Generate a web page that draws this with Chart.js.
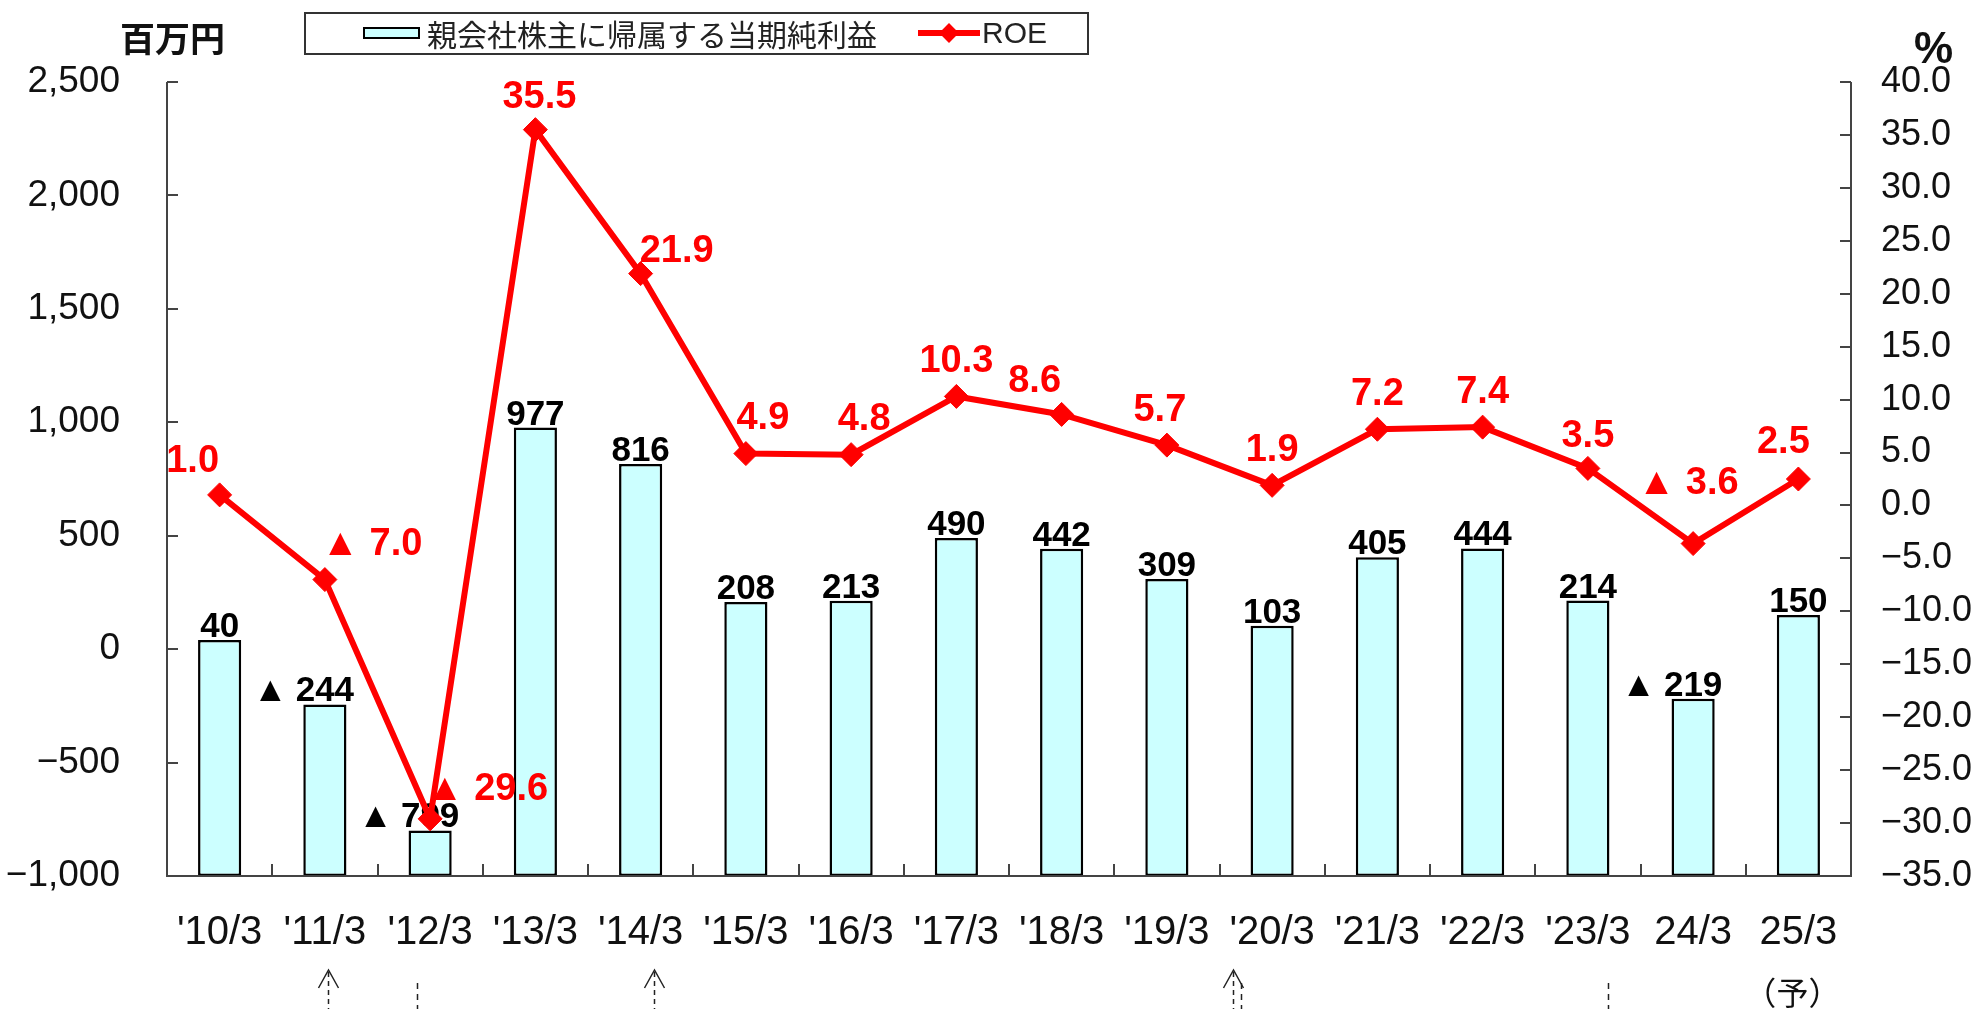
<!DOCTYPE html>
<html lang="ja">
<head>
<meta charset="utf-8">
<title>当期純利益とROE</title>
<script src="https://cdn.jsdelivr.net/npm/chart.js@4.4.1/dist/chart.umd.min.js"></script>
<style>
  html, body { margin: 0; padding: 0; background: #fff; }
  #wrap { position: relative; width: 1975px; height: 1009px; }
  #wrap canvas { position: absolute; left: 0; top: 0; }
  .txt { position: absolute; white-space: nowrap; color: #111; }
  .cjk { font-family: "Noto Sans CJK JP", sans-serif; }
  .lat { font-family: "Liberation Sans", Arial, sans-serif; }
  #legend-box { position: absolute; left: 304px; top: 12px; width: 781px; height: 39px;
    border: 2px solid #333; background: #fff; }
  #sw-bar { position: absolute; left: 363px; top: 27px; width: 57px; height: 12px;
    box-sizing: border-box; border: 2.5px solid #000; background: #ccffff; }
  #sw-line { position: absolute; left: 918px; top: 30px; width: 62px; height: 6px; background: #ff0000; }
  #sw-dot { position: absolute; left: 942px; top: 26px; width: 14px; height: 14px;
    background: #ff0000; transform: rotate(45deg); }
</style>
</head>
<body>
<div id="wrap">
  <canvas id="chart"></canvas>
  <div id="legend-box"></div>
  <div id="sw-bar"></div>
  <div class="txt cjk" style="left:427px; top:14px; font-size:30px; line-height:38px; color:#222;">親会社株主に帰属する当期純利益</div>
  <div id="sw-line"></div>
  <div id="sw-dot"></div>
  <div class="txt lat" style="left:982px; top:15px; font-size:30px; line-height:36px; color:#222;">ROE</div>
  <div class="txt cjk" style="left:120px; top:15px; font-size:35px; line-height:44px; font-weight:bold;">百万円</div>
  <div class="txt lat" style="left:1914px; top:24px; font-size:44px; line-height:48px; font-weight:bold;">%</div>
</div>
<script>
/* 当期純利益（百万円）と ROE（%）の推移。値は図から読み取り。 */

const periods = ["'10/3", "'11/3", "'12/3", "'13/3", "'14/3", "'15/3", "'16/3", "'17/3",
  "'18/3", "'19/3", "'20/3", "'21/3", "'22/3", "'23/3", "24/3", "25/3"];
const netIncome = [40, -244, -799, 977, 816, 208, 213, 490, 442, 309, 103, 405, 444, 214, -219, 150];
const roe = [1.0, -7.0, -29.6, 35.5, 21.9, 4.9, 4.8, 10.3, 8.6, 5.7, 1.9, 7.2, 7.4, 3.5, -3.6, 2.5];
const leftTicks = [-1000, -500, 0, 500, 1000, 1500, 2000, 2500];
const rightTicks = [-35, -30, -25, -20, -15, -10, -5, 0, 5, 10, 15, 20, 25, 30, 35, 40];
const forecastNote = "（予）";

// label placement for the ROE values (px from the point), layout only
const roeShift = [[-27, -33], [47, -35], [57, -29], [4, -32], [36, -22], [17, -35], [13, -35],
  [0, -35], [-27, -33], [-7, -35], [0, -35], [0, -35], [0, -35], [0, -32], [-5, -60], [-15, -36]];

const FONT = "'Liberation Sans', Arial, sans-serif";
const MINUS = "\u2212";

function fmtInt(v) {
  const s = Math.abs(v).toLocaleString("en-US");
  return v < 0 ? MINUS + s : s;
}
function fmtPct(v) {
  const s = Math.abs(v).toFixed(1);
  return v < 0 ? MINUS + s : s;
}

/* axis lines with the short inward ticks */
const axesPlugin = {
  id: "axes",
  afterDatasetsDraw(chart) {
    const { ctx, chartArea: a, scales } = chart;
    ctx.save();
    ctx.strokeStyle = "#444";
    ctx.lineWidth = 2;
    ctx.beginPath();
    ctx.moveTo(a.left, a.top); ctx.lineTo(a.left, a.bottom); ctx.lineTo(a.right, a.bottom);
    ctx.lineTo(a.right, a.top);
    for (const v of leftTicks) {
      const y = Math.round(scales.y.getPixelForValue(v));
      ctx.moveTo(a.left, y); ctx.lineTo(a.left + 11, y);
    }
    for (const v of rightTicks) {
      const y = Math.round(scales.y1.getPixelForValue(v));
      ctx.moveTo(a.right - 11, y); ctx.lineTo(a.right, y);
    }
    const n = periods.length;
    for (let i = 1; i < n; i++) {
      const x = Math.round(a.left + i * (a.right - a.left) / n);
      ctx.moveTo(x, a.bottom); ctx.lineTo(x, a.bottom - 12);
    }
    ctx.stroke();
    ctx.restore();
  },
};

/* value labels: bar labels go under the ROE line, ROE labels on top */
const valueLabels = {
  id: "valueLabels",
  afterDatasetDraw(chart, args) {
    if (args.index !== 0) return;
    const ctx = chart.ctx;
    ctx.save();
    ctx.font = "bold 35px " + FONT;
    ctx.fillStyle = "#000";
    ctx.textBaseline = "alphabetic";
    args.meta.data.forEach((bar, i) => {
      const v = netIncome[i];
      const num = String(Math.abs(v));
      const y = bar.y - 3;
      ctx.textAlign = "center";
      ctx.fillText(num, bar.x, y);
      if (v < 0) {
        const w = ctx.measureText(num).width;
        ctx.textAlign = "right";
        ctx.fillText("▲", bar.x - w / 2 - 8, y);
      }
    });
    ctx.restore();
  },
  afterDatasetsDraw(chart) {
    const ctx = chart.ctx;
    const pts = chart.getDatasetMeta(1).data;
    ctx.save();
    ctx.font = "bold 38px " + FONT;
    ctx.fillStyle = "#ff0000";
    ctx.textAlign = "center";
    ctx.textBaseline = "middle";
    pts.forEach((p, i) => {
      const v = roe[i];
      const txt = (v < 0 ? "▲ " : "") + Math.abs(v).toFixed(1);
      ctx.fillText(txt, p.x + roeShift[i][0], p.y + roeShift[i][1]);
    });
    ctx.restore();
  },
};

/* leftover marks under the category labels, and the forecast note */
const footPlugin = {
  id: "foot",
  afterDraw(chart) {
    const { ctx, scales } = chart;
    const xs = scales.x;
    const at = (pos) => xs.getPixelForValue(0) + pos * (xs.getPixelForValue(1) - xs.getPixelForValue(0));
    ctx.save();
    ctx.strokeStyle = "#222";
    ctx.lineWidth = 1.5;
    for (const pos of [1.03, 4.13, 9.63]) {
      const x = Math.round(at(pos)) + 0.5;
      ctx.setLineDash([]);
      ctx.beginPath();
      ctx.moveTo(x - 10, 988); ctx.lineTo(x, 970); ctx.lineTo(x + 10, 988);
      ctx.stroke();
      ctx.setLineDash([5, 4]);
      ctx.beginPath();
      ctx.moveTo(x, 972); ctx.lineTo(x, 1009);
      ctx.stroke();
    }
    ctx.setLineDash([6, 5]);
    for (const pos of [1.88, 9.70, 13.19]) {
      const x = Math.round(at(pos)) + 0.5;
      ctx.beginPath();
      ctx.moveTo(x, 983); ctx.lineTo(x, 1009);
      ctx.stroke();
    }
    ctx.setLineDash([]);
    ctx.font = "32px 'Noto Sans CJK JP', sans-serif";
    ctx.fillStyle = "#111";
    ctx.textAlign = "center";
    ctx.textBaseline = "middle";
    ctx.fillText(forecastNote, xs.getPixelForValue(periods.length - 1) - 6, 993);
    ctx.restore();
  },
};

new Chart(document.getElementById("chart"), {
  data: {
    labels: periods,
    datasets: [
      {
        type: "bar",
        label: "親会社株主に帰属する当期純利益",
        data: netIncome,
        yAxisID: "y",
        base: -1000,
        backgroundColor: "#ccffff",
        borderColor: "#000",
        borderWidth: 2.5,
        borderSkipped: false,
        barPercentage: 0.41,
        categoryPercentage: 1,
        order: 2,
      },
      {
        type: "line",
        label: "ROE",
        data: roe,
        yAxisID: "y1",
        borderColor: "#ff0000",
        backgroundColor: "#ff0000",
        borderWidth: 6,
        pointStyle: "rectRot",
        pointRadius: 12,
        pointBorderWidth: 1,
        pointBorderColor: "#ff0000",
        tension: 0,
        order: 1,
      },
    ],
  },
  options: {
    responsive: true,
    maintainAspectRatio: false,
    animation: false,
    layout: { padding: { top: 82, left: 0, right: 0, bottom: 0 } },
    plugins: { legend: { display: false }, tooltip: { enabled: false } },
    scales: {
      x: {
        grid: { display: false, drawTicks: false },
        border: { display: false },
        ticks: { color: "#111", font: { family: FONT, size: 40 }, padding: 33,
          maxRotation: 0, autoSkip: false },
        afterFit: (s) => { s.height = 133; },
      },
      y: {
        position: "left",
        min: -1000,
        max: 2500,
        grid: { display: false, drawTicks: false },
        border: { display: false },
        ticks: { stepSize: 500, color: "#111", font: { family: FONT, size: 37 }, padding: 47,
          callback: (v) => fmtInt(v) },
        afterFit: (s) => { s.width = 167; },
      },
      y1: {
        position: "right",
        min: -35,
        max: 40,
        grid: { display: false, drawTicks: false },
        border: { display: false },
        ticks: { stepSize: 5, color: "#111", font: { family: FONT, size: 36 }, padding: 30,
          callback: (v) => fmtPct(v) },
        afterFit: (s) => { s.width = 124; },
      },
    },
  },
  plugins: [axesPlugin, valueLabels, footPlugin],
});
</script>
</body>
</html>
